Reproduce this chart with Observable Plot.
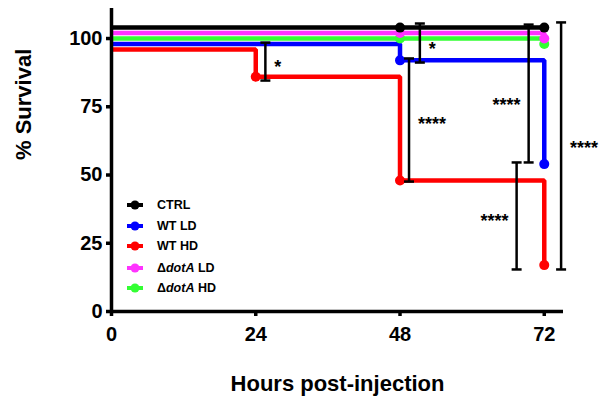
<!DOCTYPE html>
<html>
<head>
<meta charset="utf-8">
<script src="https://cdn.jsdelivr.net/npm/d3@7"></script>
<script src="https://cdn.jsdelivr.net/npm/@observablehq/plot@0.6"></script>
<style>
  html, body { margin: 0; padding: 0; background: #fff; }
  #wrap { position: relative; width: 603px; height: 403px; font-family: "Liberation Sans", Arial, sans-serif; color: #000; }
  #wrap svg { display: block; }
  g[aria-label="sig-label"] text { letter-spacing: 1.5px; }
  #legend { position: absolute; left: 0; top: 0; }
  .item { position: absolute; left: 126px; height: 14px; display: flex; align-items: center; font-weight: bold; font-size: 12.5px; white-space: nowrap; }
  .item svg { margin-right: 13px; }
</style>
</head>
<body>
<div id="wrap"><div id="legend"></div></div>
<script>
// ---- data (values as drawn, including the small offsets between overlapping groups) ----
const hours = [0, 24, 48, 72];
const groups = ["CTRL", "WT LD", "WT HD", "ΔdotA LD", "ΔdotA HD"];
const colors = ["#000000", "#0000ff", "#ff0000", "#ff33ff", "#33ff33"];
const ctrl   = [104, 104, 104, 104];
const wtLD   = [98, 98, 92, 54];
const wtHD   = [96, 86, 48, 17];
const dotaLD = [102, 102, 102, 100];
const dotaHD = [100, 100, 100, 98];
const ctrlDots   = [48, 72];
const wtLDDots   = [48, 72];
const wtHDDots   = [24, 48, 72];
const dotaLDDots = [48, 72];
const dotaHDDots = [48, 72];

// significance brackets
const sigX      = [25.6, 51.3, 49.5, 69.4, 67.4, 74.8];
const sigLow    = [84.6, 91.2, 47.6, 54.6, 15.4, 15.4];
const sigHigh   = [98.5, 105.5, 92.7, 105.1, 54.6, 105.9];
const sigText   = ["*", "*", "****", "****", "****", "****"];
const sigSide   = ["right", "right", "right", "left", "left", "right"];
const sigLabelY = [91.7, 98.2, 70.7, 77.7, 35.2, 62.0];

const yTicks = [0, 25, 50, 75, 100];
const xTicks = [0, 24, 48, 72];
const xLabel = "Hours post-injection";
const yLabel = "% Survival";

// ---- build tables ----
const seriesVals = [ctrl, wtLD, wtHD, dotaLD, dotaHD];
const seriesDots = [ctrlDots, wtLDDots, wtHDDots, dotaLDDots, dotaHDDots];
const drawOrder = [2, 1, 4, 3, 0];
const lineData = groups.map((g, i) => hours.map((h, j) => ({group: g, hour: h, value: seriesVals[i][j]})));
const dotData = groups.map((g, i) => seriesDots[i].map(h => ({group: g, hour: h, value: seriesVals[i][hours.indexOf(h)]})));
const sig = sigX.map((x, i) => ({x, low: sigLow[i], high: sigHigh[i], text: sigText[i], side: sigSide[i], ly: sigLabelY[i]}));
const caps = sig.flatMap(d => [{x: d.x, y: d.low}, {x: d.x, y: d.high}]);

const hline = {
  draw(context, size) {
    const w = Math.sqrt(size / Math.PI);
    context.moveTo(-w, 0);
    context.lineTo(w, 0);
  }
};

const marks = [];
for (const i of drawOrder) {
  marks.push(Plot.line(lineData[i], {x: "hour", y: "value", stroke: colors[i], strokeWidth: 4.5, curve: "step-after", strokeLinecap: "butt", strokeLinejoin: "miter"}));
}
for (const i of drawOrder) {
  marks.push(Plot.dot(dotData[i], {x: "hour", y: "value", r: 5, fill: colors[i], stroke: "none"}));
}
marks.push(
  Plot.ruleX(sig, {x: "x", y1: "low", y2: "high", stroke: "black", strokeWidth: 2.5}),
  Plot.dot(caps, {x: "x", y: "y", symbol: hline, r: 5, stroke: "black", strokeWidth: 2.5, fill: "none"}),
  Plot.text(sig.filter(d => d.side === "right"), {x: "x", y: "ly", text: "text", textAnchor: "start", dx: 9, dy: 6, fontSize: 18, fontWeight: "bold", fill: "black", ariaLabel: "sig-label"}),
  Plot.text(sig.filter(d => d.side === "left"), {x: "x", y: "ly", text: "text", textAnchor: "end", dx: -8, dy: 6, fontSize: 18, fontWeight: "bold", fill: "black", ariaLabel: "sig-label"}),
  Plot.ruleX([0], {stroke: "black", strokeWidth: 3.5}),
  Plot.ruleY([0], {stroke: "black", strokeWidth: 3.5}),
  Plot.axisY({ticks: yTicks, tickSize: 5, tickPadding: 4, strokeWidth: 3.5, fontSize: 20, fontWeight: "bold", label: null, fill: "black"}),
  Plot.axisX({ticks: xTicks, tickSize: 5, tickPadding: 10, strokeWidth: 3.5, fontSize: 20, fontWeight: "bold", label: null, fill: "black"}),
  Plot.text([xLabel], {frameAnchor: "bottom", text: d => d, dy: 79, lineAnchor: "bottom", fontSize: 22, fontWeight: "bold", fill: "black"}),
  Plot.text([yLabel], {frameAnchor: "left", text: d => d, dx: -88, rotate: -90, fontSize: 22, fontWeight: "bold", fill: "black"})
);

const chart = Plot.plot({
  width: 603,
  height: 403,
  marginLeft: 111,
  marginRight: 40,
  marginTop: 8,
  marginBottom: 92,
  x: {domain: [0, 75.2], axis: null},
  y: {domain: [0, 111], axis: null},
  style: {fontFamily: "'Liberation Sans', Arial, sans-serif", color: "black", background: "white"},
  marks
});
document.getElementById("wrap").prepend(chart);

// ---- legend ----
const legendY = [205, 226, 246, 268, 288];
const legend = document.getElementById("legend");
groups.forEach((g, i) => {
  const item = document.createElement("div");
  item.className = "item";
  item.style.top = (legendY[i] - 7) + "px";
  const ns = "http://www.w3.org/2000/svg";
  const s = document.createElementNS(ns, "svg");
  s.setAttribute("width", 18); s.setAttribute("height", 14);
  const ln = document.createElementNS(ns, "line");
  ln.setAttribute("x1", 1); ln.setAttribute("x2", 17); ln.setAttribute("y1", 7); ln.setAttribute("y2", 7);
  ln.setAttribute("stroke", colors[i]); ln.setAttribute("stroke-width", 4);
  const c = document.createElementNS(ns, "circle");
  c.setAttribute("cx", 9); c.setAttribute("cy", 7); c.setAttribute("r", 4.5); c.setAttribute("fill", colors[i]);
  s.append(ln, c);
  item.append(s);
  const label = document.createElement("span");
  if (g.startsWith("Δ")) {
    const rest = g.slice(1).split(" ");
    label.innerHTML = "Δ<i>" + rest[0] + "</i> " + rest.slice(1).join(" ");
  } else {
    label.textContent = g;
  }
  item.append(label);
  legend.append(item);
});
</script>
</body>
</html>
